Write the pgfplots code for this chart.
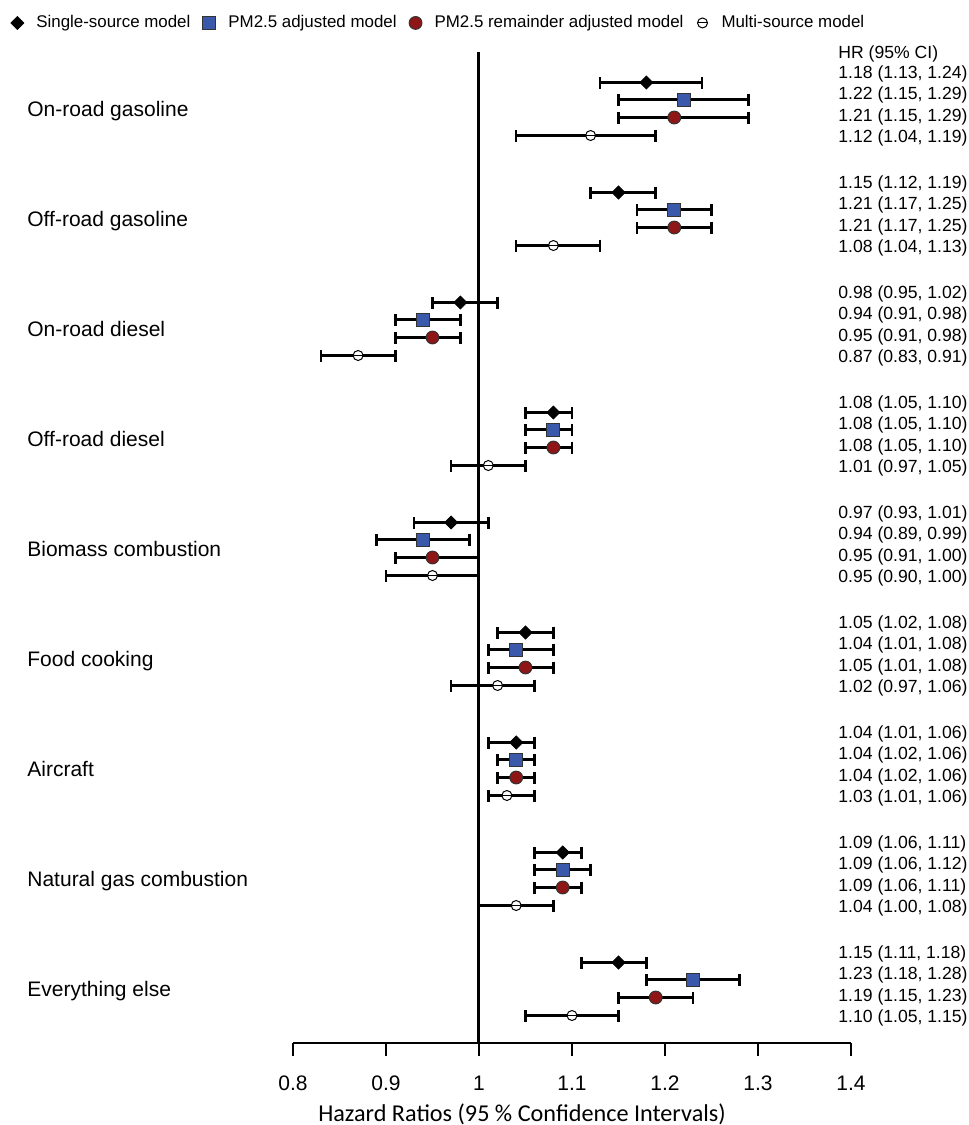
\documentclass[border=0pt]{standalone}
\usepackage{pgfplots}
\pgfplotsset{compat=1.18}
\usepackage{pgfplotstable}
\usepackage{fontspec}
\setmainfont{Liberation Sans}
\newfontfamily\calibri{Carlito}
\definecolor{sqblue}{RGB}{59,89,170}
\definecolor{cired}{RGB}{142,22,22}

\pgfdeclareplotmark{ominus}{%
  \pgfpathcircle{\pgfpointorigin}{\pgfplotmarksize}%
  \pgfusepathqfillstroke
  \pgfpathmoveto{\pgfqpoint{-\pgfplotmarksize}{0pt}}%
  \pgfpathlineto{\pgfqpoint{\pgfplotmarksize}{0pt}}%
  \pgfusepathqstroke
}

\pgfplotstableread{
y x lo hi
960.5 1.18 1.13 1.24
850.5 1.15 1.12 1.19
740.5 0.98 0.95 1.02
630.5 1.08 1.05 1.10
520.5 0.97 0.93 1.01
410.5 1.05 1.02 1.08
300.5 1.04 1.01 1.06
190.5 1.09 1.06 1.11
80.5 1.15 1.11 1.18
}\single

\pgfplotstableread{
y x lo hi
943.5 1.22 1.15 1.29
833.5 1.21 1.17 1.25
723.5 0.94 0.91 0.98
613.5 1.08 1.05 1.10
503.5 0.94 0.89 0.99
393.5 1.04 1.01 1.08
283.5 1.04 1.02 1.06
173.5 1.09 1.06 1.12
63.5 1.23 1.18 1.28
}\pmadj

\pgfplotstableread{
y x lo hi
925.5 1.21 1.15 1.29
815.5 1.21 1.17 1.25
705.5 0.95 0.91 0.98
595.5 1.08 1.05 1.10
485.5 0.95 0.91 1.00
375.5 1.05 1.01 1.08
265.5 1.04 1.02 1.06
155.5 1.09 1.06 1.11
45.5 1.19 1.15 1.23
}\pmrem

\pgfplotstableread{
y x lo hi
907.5 1.12 1.04 1.19
797.5 1.08 1.04 1.13
687.5 0.87 0.83 0.91
577.5 1.01 0.97 1.05
467.5 0.95 0.90 1.00
357.5 1.02 0.97 1.06
247.5 1.03 1.01 1.06
137.5 1.04 1.00 1.08
27.5 1.10 1.05 1.15
}\multi

\newcommand{\hr}[2]{\node[anchor=base west, inner sep=0pt, font=\fontsize{8.8}{10}\selectfont] at (axis cs:1.38602,#1) {#2};}
\newcommand{\cat}[2]{\node[anchor=base west, inner sep=0pt, font=\fontsize{10.5}{12}\selectfont] at (axis cs:0.51398,#1) {#2};}

\pgfplotsset{
  cibars/.style={forget plot, only marks, mark=none,
    error bars/.cd, x dir=both, x explicit, error mark=|,
    error bar style={line width=1.3pt, black, solid},
    error mark options={black, mark size=3pt, line width=1.3pt, rotate=0}},
}

\begin{document}
\begin{tikzpicture}
\begin{axis}[
  at={(146.5pt,-521.5pt)}, anchor=south west,
  scale only axis, width=279pt, height=521.5pt,
  xmin=0.8, xmax=1.4, ymin=0, ymax=1043,
  axis x line*=bottom, hide y axis,
  xtick={0.8,0.9,1,1.1,1.2,1.3,1.4},
  tick align=outside, major tick length=6.5pt,
  major tick style={black, line width=0.75pt},
  axis line style={black, line width=0.75pt},
  xticklabel style={font=\fontsize{10.5}{12}\selectfont, inner sep=0pt, anchor=north},
  xticklabel shift=9.75pt,
  /pgf/number format/assume math mode=true,
  clip=false,
  legend columns=4,
  legend image code/.code={\path[draw=none, fill=none] (0pt,0pt) -- (9pt,0pt);
    \draw[mark repeat=2,mark phase=2,#1] plot coordinates {(0pt,0pt) (4.5pt,0pt) (9pt,0pt)};},
  legend style={at={(-0.5108,0.978)}, anchor=west, draw=none, fill=none, inner sep=0pt,
    font=\fontsize{8.45}{10}\selectfont, nodes={inner sep=0pt},
    /tikz/every odd column/.style={column sep=5pt},
    /tikz/every even column/.style={column sep=5pt}},
  legend cell align=left,
]
\addplot[forget plot, black, line width=1.5pt] coordinates {(1,0) (1,991)};

\addplot[cibars] table[x=x, y=y, x error plus expr=\thisrow{hi}-\thisrow{x}, x error minus expr=\thisrow{x}-\thisrow{lo}] {\single};
\addplot[cibars] table[x=x, y=y, x error plus expr=\thisrow{hi}-\thisrow{x}, x error minus expr=\thisrow{x}-\thisrow{lo}] {\pmadj};
\addplot[cibars] table[x=x, y=y, x error plus expr=\thisrow{hi}-\thisrow{x}, x error minus expr=\thisrow{x}-\thisrow{lo}] {\pmrem};
\addplot[cibars] table[x=x, y=y, x error plus expr=\thisrow{hi}-\thisrow{x}, x error minus expr=\thisrow{x}-\thisrow{lo}] {\multi};

\addplot[only marks, mark=square*, mark size=2.3pt,
  mark options={rotate=45, fill=black, draw=black}]
  table[x=x, y=y] {\single};
\addlegendentry{Single-source model}

\addplot[only marks, mark=square*, mark size=3.25pt,
  mark options={fill=sqblue, draw=black!80, line width=0.5pt}]
  table[x=x, y=y] {\pmadj};
\addlegendentry{PM2.5 adjusted model}

\addplot[only marks, mark=*, mark size=3.2pt,
  mark options={fill=cired, draw=black!80, line width=0.5pt}]
  table[x=x, y=y] {\pmrem};
\addlegendentry{PM2.5 remainder adjusted model}

\addplot[only marks, mark=ominus, mark size=2.5pt,
  mark options={draw=black, fill=white, line width=0.5pt}]
  table[x=x, y=y] {\multi};
\addlegendentry{Multi-source model}

\hr{984.8}{HR (95\% CI)}
\hr{964.8}{1.18 (1.13, 1.24)}
\hr{943.4}{1.22 (1.15, 1.29)}
\hr{922.0}{1.21 (1.15, 1.29)}
\hr{900.6}{1.12 (1.04, 1.19)}
\hr{854.8}{1.15 (1.12, 1.19)}
\hr{833.4}{1.21 (1.17, 1.25)}
\hr{812.0}{1.21 (1.17, 1.25)}
\hr{790.6}{1.08 (1.04, 1.13)}
\hr{744.8}{0.98 (0.95, 1.02)}
\hr{723.4}{0.94 (0.91, 0.98)}
\hr{702.0}{0.95 (0.91, 0.98)}
\hr{680.6}{0.87 (0.83, 0.91)}
\hr{634.8}{1.08 (1.05, 1.10)}
\hr{613.4}{1.08 (1.05, 1.10)}
\hr{592.0}{1.08 (1.05, 1.10)}
\hr{570.6}{1.01 (0.97, 1.05)}
\hr{524.8}{0.97 (0.93, 1.01)}
\hr{503.4}{0.94 (0.89, 0.99)}
\hr{482.0}{0.95 (0.91, 1.00)}
\hr{460.6}{0.95 (0.90, 1.00)}
\hr{414.8}{1.05 (1.02, 1.08)}
\hr{393.4}{1.04 (1.01, 1.08)}
\hr{372.0}{1.05 (1.01, 1.08)}
\hr{350.6}{1.02 (0.97, 1.06)}
\hr{304.8}{1.04 (1.01, 1.06)}
\hr{283.4}{1.04 (1.02, 1.06)}
\hr{262.0}{1.04 (1.02, 1.06)}
\hr{240.6}{1.03 (1.01, 1.06)}
\hr{194.8}{1.09 (1.06, 1.11)}
\hr{173.4}{1.09 (1.06, 1.12)}
\hr{152.0}{1.09 (1.06, 1.11)}
\hr{130.6}{1.04 (1.00, 1.08)}
\hr{84.8}{1.15 (1.11, 1.18)}
\hr{63.4}{1.23 (1.18, 1.28)}
\hr{42.0}{1.19 (1.15, 1.23)}
\hr{20.6}{1.10 (1.05, 1.15)}

\cat{927}{On-road gasoline}
\cat{817}{Off-road gasoline}
\cat{707}{On-road diesel}
\cat{597}{Off-road diesel}
\cat{487}{Biomass combustion}
\cat{377}{Food cooking}
\cat{267}{Aircraft}
\cat{157}{Natural gas combustion}
\cat{47}{Everything else}

\node[anchor=center, inner sep=0pt, font=\calibri\fontsize{12.1}{14}\selectfont] at (axis cs:1.04624,-71.5) {Hazard Ratios (95 \% Confidence Intervals)};
\end{axis}
\pgfresetboundingbox
\path[use as bounding box] (0pt,0pt) rectangle (484.5pt,-562.5pt);
\end{tikzpicture}
\end{document}
